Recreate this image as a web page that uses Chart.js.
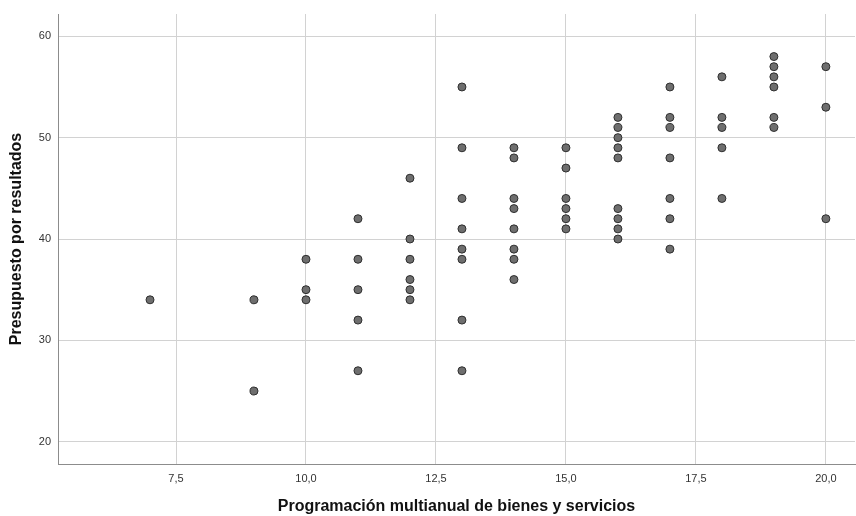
<!DOCTYPE html>
<html>
<head>
<meta charset="utf-8">
<script src="https://cdn.jsdelivr.net/npm/chart.js@4.4.1/dist/chart.umd.min.js"></script>
<style>
  html, body { margin: 0; padding: 0; background: #fff; }
  #wrap { width: 856px; height: 516px; position: relative; }
</style>
</head>
<body>
<div id="wrap"><canvas id="scatter"></canvas></div>
<script>
/* ============================================================
   DATA
   ============================================================ */

// x value (Programación multianual) of each column of points
const xGroups = [7, 9, 10, 11, 12, 13, 14, 15, 16, 17, 18, 19, 20];

// y values (Presupuesto por resultados) found in each column
const yByGroup = [
  [34],
  [34, 25],
  [38, 35, 34],
  [42, 38, 35, 32, 27],
  [46, 40, 38, 36, 35, 34],
  [55, 49, 44, 41, 39, 38, 32, 27],
  [49, 48, 44, 43, 41, 39, 38, 36],
  [49, 47, 44, 43, 42, 41],
  [52, 51, 50, 49, 48, 43, 42, 41, 40],
  [55, 52, 51, 48, 44, 42, 39],
  [56, 52, 51, 49, 44],
  [58, 57, 56, 55, 52, 51],
  [57, 53, 42],
];

const xTicks = [7.5, 10, 12.5, 15, 17.5, 20];
const yTicks = [20, 30, 40, 50, 60];

const xTitle = 'Programación multianual de bienes y servicios';
const yTitle = 'Presupuesto por resultados';

/* ============================================================
   CHART
   ============================================================ */

const points = [];
xGroups.forEach((x, i) => yByGroup[i].forEach(y => points.push({ x, y })));

const fmtComma = v => v.toFixed(1).replace('.', ',');
const titleFont = { family: "'Liberation Sans', Arial, sans-serif", size: 16, weight: 'bold' };
const tickFont  = { family: "'Liberation Sans', Arial, sans-serif", size: 11 };

new Chart(document.getElementById('scatter'), {
  type: 'scatter',
  data: {
    datasets: [{
      data: points,
      backgroundColor: '#6e6e6e',
      borderColor: '#2e2e2e',
      borderWidth: 1,
      pointRadius: 4,
      pointHoverRadius: 4,
    }],
  },
  options: {
    responsive: true,
    maintainAspectRatio: false,
    animation: false,
    layout: { autoPadding: false, padding: { top: 14, right: 1, left: 0, bottom: 0 } },
    plugins: { legend: { display: false }, tooltip: { enabled: false } },
    scales: {
      x: {
        type: 'linear',
        min: 5.23,
        max: 20.56,
        afterBuildTicks: s => { s.ticks = xTicks.map(value => ({ value })); },
        afterFit: s => { s.height = 52; s.paddingLeft = 0; s.paddingRight = 0; },
        grid: { color: '#d2d2d2', lineWidth: 1, drawTicks: false },
        border: { color: '#8c8c8c', width: 1 },
        ticks: { color: '#333', font: tickFont, padding: 8, callback: v => fmtComma(v), maxRotation: 0 },
        title: { display: true, text: xTitle, color: '#111', font: titleFont, padding: { top: 0, bottom: 0 } },
      },
      y: {
        type: 'linear',
        min: 17.8,
        max: 62.2,
        afterBuildTicks: s => { s.ticks = yTicks.map(value => ({ value })); },
        afterFit: s => { s.width = 58; s.paddingTop = 0; s.paddingBottom = 0; },
        grid: { color: '#d2d2d2', lineWidth: 1, drawTicks: false },
        border: { color: '#8c8c8c', width: 1 },
        ticks: { color: '#333', font: tickFont, padding: 7 },
        title: { display: true, text: yTitle, color: '#111', font: titleFont, padding: { top: 7, bottom: 0 } },
      },
    },
  },
});
</script>
</body>
</html>
